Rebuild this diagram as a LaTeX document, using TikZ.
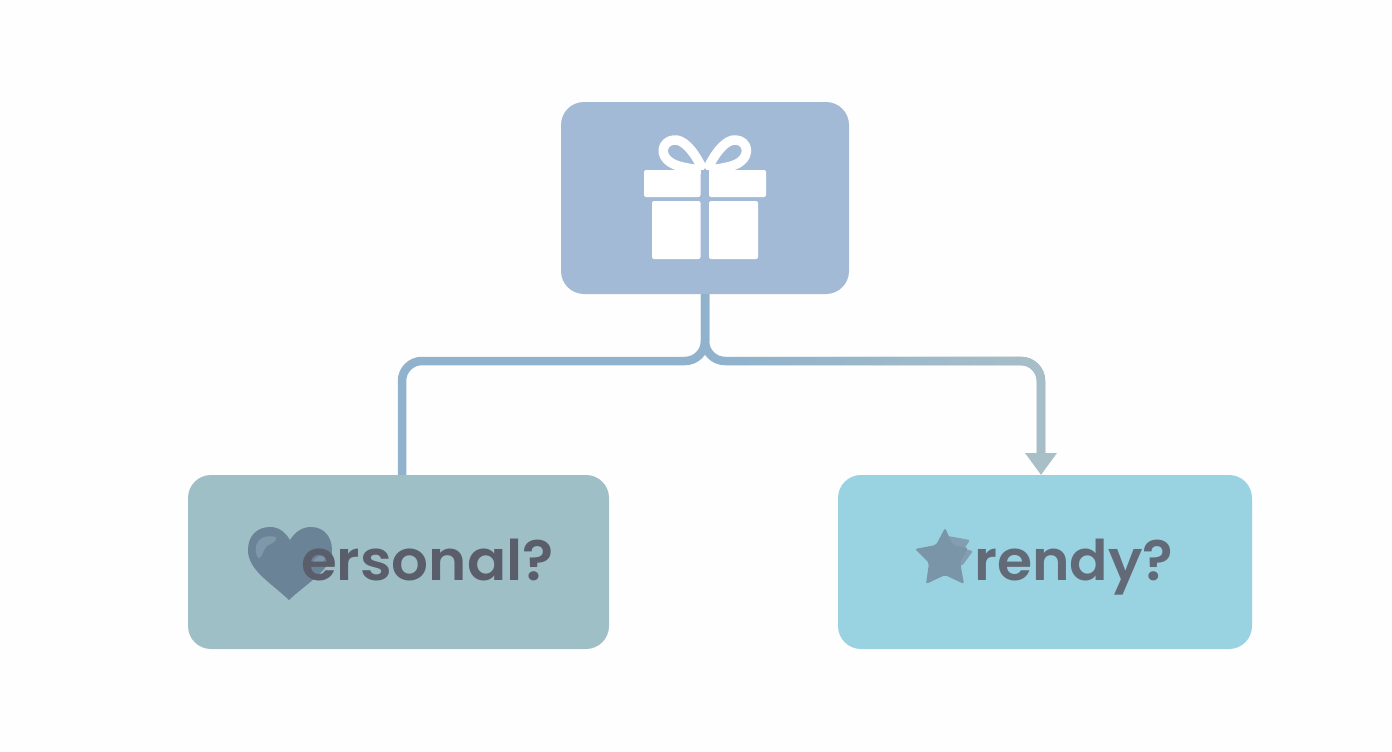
\documentclass[tikz,border=0pt]{standalone}
\usepackage{fontspec}
\setmainfont{Poppins}[BoldFont={Poppins SemiBold},BoldFeatures={FakeStretch=1.035}]
\usetikzlibrary{arrows.meta,fadings}
\definecolor{bgc}{HTML}{FEFEFE}
\definecolor{topc}{HTML}{A3BAD7}
\definecolor{leftc}{HTML}{9FBFC7}
\definecolor{rightc}{HTML}{99D2E0}
\definecolor{linec}{HTML}{90B2CD}
\definecolor{lineend}{HTML}{A8BFC8}
\definecolor{txtl}{HTML}{5A5E6B}
\definecolor{txtr}{HTML}{626977}
\definecolor{heartc}{HTML}{6A8397}
\definecolor{heartl}{HTML}{7F98A9}
\definecolor{starc}{HTML}{7B95A8}
\definecolor{stard}{HTML}{839EB0}
\tikzfading[name=fadeToRight,left color=transparent!100,right color=transparent!0]
\tikzset{
  x=1pt,y=-1pt,
  box/.style={draw=none,rounded corners=23pt,minimum width=#1,inner sep=0pt},
  conn/.style={line width=8.5pt,rounded corners=20pt,draw=linec},
  lbl/.style={anchor=base west,inner sep=0pt,font=\bfseries\fontsize{56}{60}\selectfont},
  bowline/.style={draw=white,line width=9.5pt,line cap=round,line join=round},
}
\begin{document}
\begin{tikzpicture}
\useasboundingbox (0,0) rectangle (1392,752);
\fill[bgc] (0,0) rectangle (1392,752);
% boxes
\node[box=288pt,minimum height=192pt,fill=topc] (gift) at (705,198) {};
\node[box=421pt,minimum height=174pt,fill=leftc] (pers) at (398.5,562) {};
\node[box=414pt,minimum height=174pt,fill=rightc] (trend) at (1045,562) {};
% connectors
\coordinate (arrowtop) at (1041,456);
\draw[conn] (gift.south) -- (705,361) -| ([xshift=3.5pt]pers.north);
\draw[conn] (gift.south) -- (705,361) -| (arrowtop);
\draw[conn,draw=lineend,path fading=fadeToRight] (728,361) -| (arrowtop);
\path[fill=lineend] (1025,453) -- (1057,453) -- ([xshift=-4pt]trend.north) -- cycle;
% gift icon
\fill[white,rounded corners=2pt] (644,170) rectangle (700.5,197);
\fill[white,rounded corners=2pt] (709,170) rectangle (766,197);
\fill[white,rounded corners=2pt] (652,201) rectangle (700.5,259);
\fill[white,rounded corners=2pt] (709,201) rectangle (758,259);
\draw[bowline] (701,166) .. controls (693,150) and (683,139) .. (674,140) .. controls (662,141) and (659,155) .. (670,162) .. controls (677,167) and (688,168) .. (699,170);
\draw[bowline] (709,166) .. controls (717,150) and (727,139) .. (736,140) .. controls (748,141) and (750,155) .. (740,162) .. controls (733,167) and (722,168) .. (711,170);
\fill[topc] (700.5,170) rectangle (709,197);
% heart
\fill[heartc] (289,600) .. controls (270,582) and (248,570) .. (248,550)
  .. controls (248,535) and (258,527) .. (270,527)
  .. controls (279,527) and (285,532) .. (290,540)
  .. controls (295,532) and (302,527) .. (311,527)
  .. controls (324,527) and (332,537) .. (332,550)
  .. controls (332,570) and (308,582) .. (289,600) -- cycle;
\fill[heartl] (256,552) .. controls (254,540) and (264,534) .. (276,537) .. controls (278,541) and (272,543) .. (267,546) .. controls (263,550) and (262,558) .. (259,558) .. controls (257,557) and (256,555) .. (256,552) -- cycle;
\fill[heartl] (313,564) .. controls (314,556) and (322,554) .. (325,558) .. controls (325,562) and (318,566) .. (313,564) -- cycle;
% star
\fill[stard,rounded corners=2pt] (948,536) -- (970,540) -- (964,549) -- (973,551) -- (962,566) -- (950,566) -- cycle;
\fill[starc,rounded corners=2pt] (945,528) -- (953,545) -- (968,548) -- (960,562) -- (964,584) -- (945,575) -- (926,584) -- (929,563) -- (915,549) -- (936,545) -- cycle;
% labels
\node[lbl,text=txtl] (personal) at (301,580) {ersonal?};
\node[lbl,text=txtr] (trendy) at (974,580) {\scalebox{0.98}[1]{rendy?}};
\end{tikzpicture}
\end{document}
